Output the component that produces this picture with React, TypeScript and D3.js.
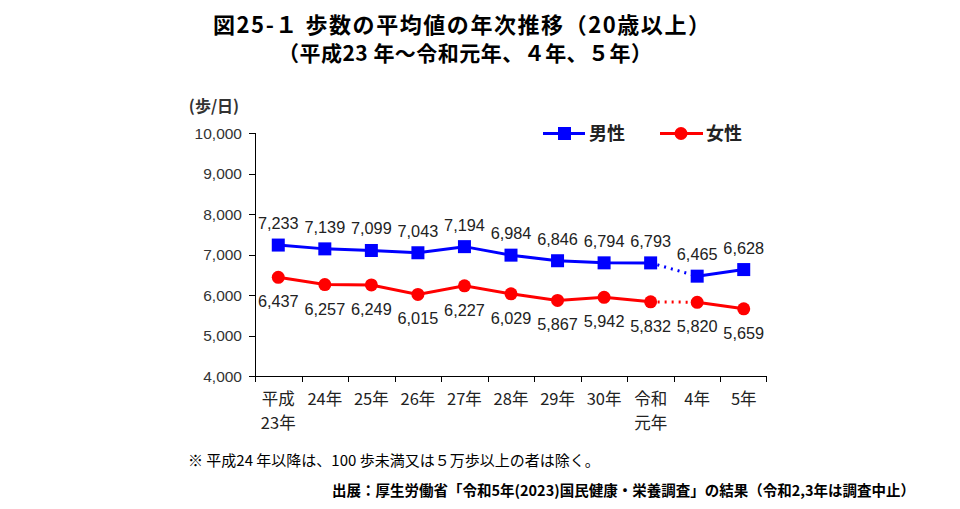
import React from "react";
import * as d3 from "d3";

const categories = ["平成\n23年", "24年", "25年", "26年", "27年", "28年", "29年", "30年", "令和\n元年", "4年", "5年"];
const maleValues = [7233, 7139, 7099, 7043, 7194, 6984, 6846, 6794, 6793, 6465, 6628];
const femaleValues = [6437, 6257, 6249, 6015, 6227, 6029, 5867, 5942, 5832, 5820, 5659];
const yTicks = [4000, 5000, 6000, 7000, 8000, 9000, 10000];
const gapIndex = 8; // dotted segment between index 8 and 9

const W = 960, H = 509;
const JP = "'Noto Sans CJK JP', 'Noto Sans', sans-serif";
const NUM = "'Liberation Sans', Arial, sans-serif";

export default function App() {
  const x = d3.scaleBand<string>().domain(categories).range([255, 767]).padding(0);
  const y = d3.scaleLinear().domain([4000, 10000]).range([376, 133]);
  const cx = (i: number) => (x(categories[i]) as number) + x.bandwidth() / 2;
  const fmt = d3.format(",");
  const line = d3.line<[number, number]>().x(d => d[0]).y(d => d[1]);

  const seg = (vals: number[], a: number, b: number) =>
    line(vals.slice(a, b + 1).map((v, k) => [cx(a + k), y(v)]) as [number, number][]) || "";

  const series = [
    { name: "男性", vals: maleValues, color: "#0000FF", shape: "square", above: true },
    { name: "女性", vals: femaleValues, color: "#FF0000", shape: "circle", above: false },
  ];

  return (
    <svg width={W} height={H} style={{ position: "absolute", left: 0, top: 0, background: "#fff" }}>
      <rect width={W} height={H} fill="#fff" />
      {/* Title */}
      <text x={213} y={33} fontFamily={JP} fontWeight="bold" fontSize={22} fill="#000"
        textLength={497} lengthAdjust="spacing">
        図25-１ 歩数の平均値の年次推移（20歳以上）
      </text>
      <text x={465} y={61} textAnchor="middle" fontFamily={JP} fontWeight="bold" fontSize={21} fill="#000"
        textLength={374} lengthAdjust="spacing">
        （平成23 年～令和元年、４年、５年）
      </text>

      {/* unit */}
      <text x={214} y={112} textAnchor="middle" fontFamily={JP} fontWeight="bold" fontSize={16} fill="#333">
        (歩/日)
      </text>

      {/* y axis */}
      <line x1={255.5} x2={255.5} y1={y(10000)} y2={y(4000)} stroke="#000" strokeWidth={1} />
      {yTicks.map(t => (
        <g key={t}>
          <line x1={249} x2={255.5} y1={Math.round(y(t)) + 0.5} y2={Math.round(y(t)) + 0.5} stroke="#000" />
          <text x={242} y={y(t) + 5.5} textAnchor="end" fontFamily={NUM} fontSize={15.5} fill="#333">
            {fmt(t)}
          </text>
        </g>
      ))}

      {/* x axis */}
      <line x1={255} x2={767} y1={376.5} y2={376.5} stroke="#000" strokeWidth={1} />
      {categories.map((c, i) => (
        <line key={"t" + i} x1={Math.round(x(c) as number) + 0.5} x2={Math.round(x(c) as number) + 0.5} y1={376.5} y2={382} stroke="#000" />
      ))}
      <line x1={766.5} x2={766.5} y1={376.5} y2={382} stroke="#000" />
      {categories.map((c, i) => {
        const parts = c.split("\n");
        return (
          <text key={"l" + i} x={cx(i)} y={405} textAnchor="middle" fontFamily={JP} fontSize={16.5} fill="#222">
            {parts.map((p, k) => (
              <tspan key={k} x={cx(i)} dy={k === 0 ? 0 : 24}>{p}</tspan>
            ))}
          </text>
        );
      })}

      {/* series */}
      {series.map(s => (
        <g key={s.name}>
          <path d={seg(s.vals, 0, gapIndex)} fill="none" stroke={s.color} strokeWidth={3} />
          <path d={seg(s.vals, gapIndex, gapIndex + 1)} fill="none" stroke={s.color} strokeWidth={3} strokeDasharray="2 5" />
          <path d={seg(s.vals, gapIndex + 1, s.vals.length - 1)} fill="none" stroke={s.color} strokeWidth={3} />
          {s.vals.map((v, i) =>
            s.shape === "square" ? (
              <rect key={i} x={cx(i) - 6.5} y={y(v) - 6.5} width={13} height={13} fill={s.color} />
            ) : (
              <circle key={i} cx={cx(i)} cy={y(v)} r={6.5} fill={s.color} />
            )
          )}
          {s.vals.map((v, i) => (
            <text key={"v" + i} x={cx(i)} y={s.above ? y(v) - 16 : y(v) + 30} textAnchor="middle"
              fontFamily={NUM} fontSize={16.3} fill="#222">
              {fmt(v)}
            </text>
          ))}
        </g>
      ))}

      {/* legend */}
      <line x1={543} x2={585} y1={133.5} y2={133.5} stroke="#0000FF" strokeWidth={3} />
      <rect x={558} y={127} width={13} height={13} fill="#0000FF" />
      <text x={589} y={140} fontFamily={JP} fontSize={18} fontWeight="bold" fill="#222">男性</text>
      <line x1={660} x2={703} y1={133.5} y2={133.5} stroke="#FF0000" strokeWidth={3} />
      <circle cx={681} cy={133.5} r={6.5} fill="#FF0000" />
      <text x={706} y={140} fontFamily={JP} fontSize={18} fontWeight="bold" fill="#222">女性</text>

      {/* notes */}
      <text x={188} y={466} fontFamily={JP} fontSize={15} fill="#000">
        ※ 平成24 年以降は、100 歩未満又は５万歩以上の者は除く。
      </text>
      <text x={915} y={496} textAnchor="end" fontFamily={JP} fontWeight="bold" fontSize={14.5} fill="#000">
        出展：厚生労働省「令和5年(2023)国民健康・栄養調査」の結果（令和2,3年は調査中止）
      </text>
    </svg>
  );
}
